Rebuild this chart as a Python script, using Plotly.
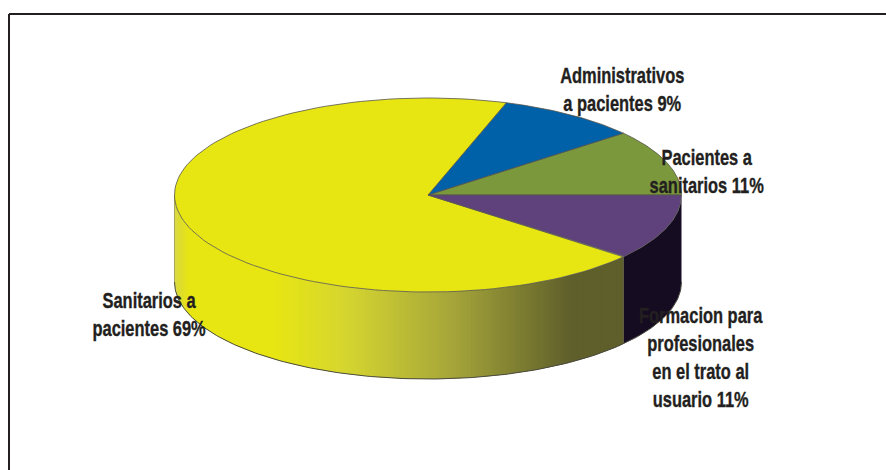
import numpy as np
import plotly.graph_objects as go

# Share of complaints by direction, drawn counter-clockwise from the east
categories = ["Pacientes a sanitarios", "Administrativos a pacientes",
              "Sanitarios a pacientes", "Formacion para profesionales"]
values = [11, 9, 69, 11]
top_colors = ["#7b983c", "#0060a8", "#e8e612", "#5f427c"]
label_lines = [
    "Pacientes a<br>sanitarios 11%",
    "Administrativos<br>a pacientes 9%",
    "Sanitarios a<br>pacientes 69%",
    "Formacion para<br>profesionales<br>en el trato al<br>usuario 11%",
]
label_x = [706, 622, 149, 701]
label_y = [172, 90, 315, 358]

INK = "#231f20"
W, H = 886, 470
CX, CY, RX, RY, DEPTH = 428, 195, 253.5, 97, 87

# Horizontal shading of the yellow wall: pixel column -> colour
shade_x = [175, 190, 272, 347, 453, 570, 623]
shade_r = [216, 232, 232, 213, 165, 95, 95]
shade_g = [216, 230, 230, 213, 165, 95, 95]
shade_b = [60, 18, 18, 48, 58, 43, 43]

fig = go.Figure()


def rim(deg):
    t = np.radians(deg)
    return CX + RX * np.cos(t), CY - RY * np.sin(t)


def add_poly(xs, ys, fill, line=None, width=0):
    fig.add_trace(go.Scatter(x=xs, y=ys, mode="lines", fill="toself", fillcolor=fill,
                             line=dict(color=line or fill, width=width),
                             hoverinfo="skip", showlegend=False))


edges = np.concatenate([[0], np.cumsum(values)]) * 3.6

# Side wall of the last slice, almost black
a = np.linspace(edges[3], edges[4], 60)
x, y = rim(a)
add_poly(np.r_[x, x[::-1]], np.r_[y, y[::-1] + DEPTH], "#150c22")

# Side wall of the large slice. Each strip runs under the next one, so no seams show.
strip_a = np.linspace(180, edges[3], 170)
for k in range(len(strip_a) - 1):
    a1 = strip_a[min(k + 2, len(strip_a) - 1)]
    x, y = rim(np.array([strip_a[k], a1]))
    xm = rim(strip_a[k] + (strip_a[1] - strip_a[0]) / 2)[0]
    col = "rgb({:.0f},{:.0f},{:.0f})".format(np.interp(xm, shade_x, shade_r),
                                            np.interp(xm, shade_x, shade_g),
                                            np.interp(xm, shade_x, shade_b))
    add_poly([x[0], x[1], x[1], x[0]], [y[0], y[1], y[1] + DEPTH, y[0] + DEPTH], col)

# Lower outline of the wall
a = np.linspace(180, 360, 200)
x, y = rim(a)
fig.add_trace(go.Scatter(x=x, y=y + DEPTH, mode="lines", line=dict(color="#4a4a40", width=1),
                         hoverinfo="skip", showlegend=False))
x, y = rim(np.array([180, 180]))
fig.add_trace(go.Scatter(x=x, y=[y[0], y[0] + DEPTH], mode="lines",
                         line=dict(color="#a8a85a", width=1), hoverinfo="skip", showlegend=False))

# Top face, one wedge per value
for i, color in enumerate(top_colors):
    a = np.linspace(edges[i], edges[i + 1], 120)
    x, y = rim(a)
    add_poly(np.r_[CX, x, CX], np.r_[CY, y, CY], color, line="#55554c", width=0.8)

fig.add_shape(type="line", x0=9, x1=9, y0=14, y1=H, line=dict(color=INK, width=2))
fig.add_shape(type="line", x0=9, x1=W, y0=14, y1=14, line=dict(color=INK, width=2))

for text, lx, ly in zip(label_lines, label_x, label_y):
    fig.add_annotation(x=lx, y=ly, text="<b>" + text + "</b>", showarrow=False, align="center",
                       xanchor="center", yanchor="middle",
                       font=dict(family="Liberation Sans", size=21.5, color=INK))

fig.update_xaxes(visible=False, range=[0, W], fixedrange=True)
fig.update_yaxes(visible=False, range=[H, 0], fixedrange=True)
fig.update_layout(width=W, height=H, margin=dict(l=0, r=0, t=0, b=0),
                  paper_bgcolor="white", plot_bgcolor="white", showlegend=False)

# Condense the labels horizontally about their own centres and thicken the strokes a little
CONDENSE = """
document.querySelectorAll('.annotation-text').forEach(function (t) {
  t.style.transformBox = 'fill-box';
  t.style.transformOrigin = 'center';
  t.style.transform = 'scaleX(0.765)';
  t.style.stroke = '#231f20';
  t.style.strokeWidth = '0.35px';
});
"""

fig.write_html("out.html", config={"displayModeBar": False}, post_script=CONDENSE)
